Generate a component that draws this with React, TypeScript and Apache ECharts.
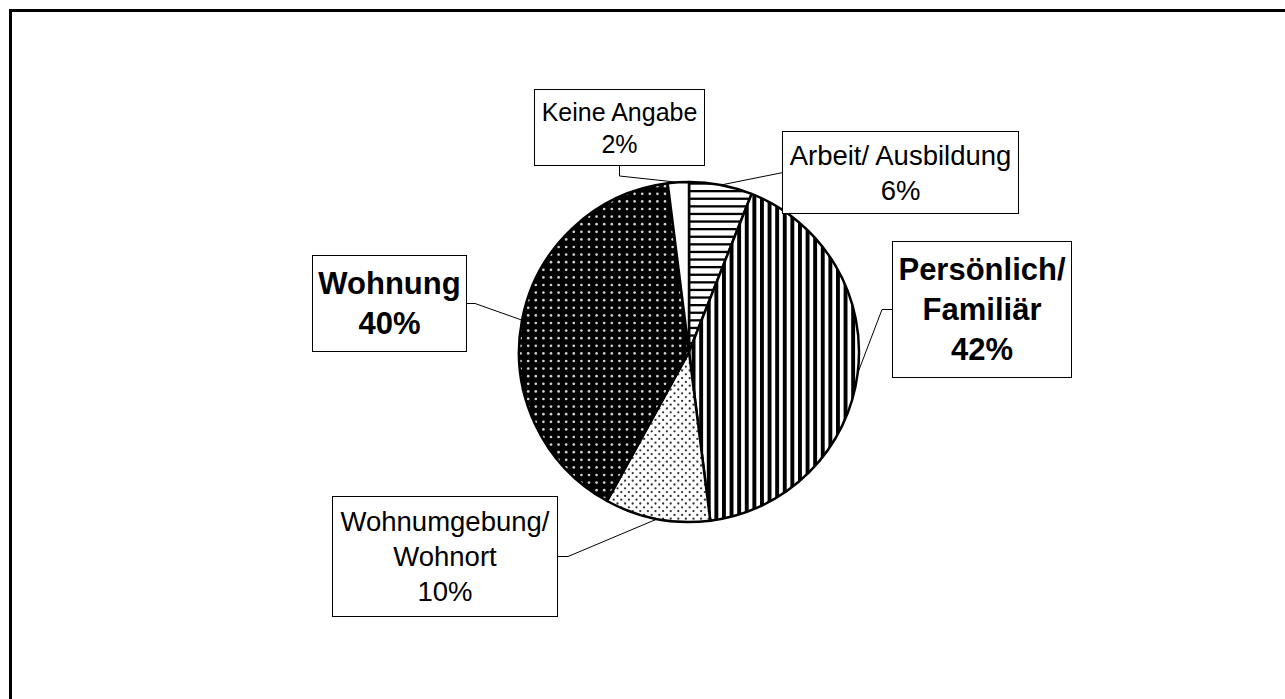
import React, { useEffect, useRef } from 'react';
import * as echarts from 'echarts';

// ---- data ----
const categories = [
  'Arbeit/ Ausbildung',
  'Persönlich/\nFamiliär',
  'Wohnumgebung/\nWohnort',
  'Wohnung',
  'Keine Angabe',
];
const values = [6, 42, 10, 40, 2];

// ---- layout (not data) ----
const CX = 689;
const CY = 352;
const R = 170;
const FONT = '"Liberation Sans", Arial, sans-serif';

type Box = { cx: number; cy: number; w: number; h: number; anchor: 'left' | 'right' | 'bottom'; fs: number; lh: number; bold: boolean; elbow: number };
const boxes: Box[] = [
  { cx: 900.5, cy: 172.5, w: 235, h: 81, anchor: 'left', fs: 27.5, lh: 35, bold: false, elbow: 0 },
  { cx: 982, cy: 309.5, w: 178, h: 135, anchor: 'left', fs: 31, lh: 40, bold: true, elbow: 11 },
  { cx: 445, cy: 556.5, w: 224, h: 119, anchor: 'right', fs: 27.5, lh: 35, bold: false, elbow: 11 },
  { cx: 389.5, cy: 303.5, w: 153, h: 95, anchor: 'right', fs: 31, lh: 40, bold: true, elbow: 9 },
  { cx: 619.5, cy: 127.5, w: 169, h: 75, anchor: 'bottom', fs: 25, lh: 32, bold: false, elbow: 11 },
];

function makeCanvas(w: number, h: number, draw: (ctx: CanvasRenderingContext2D) => void) {
  const c = document.createElement('canvas');
  c.width = w;
  c.height = h;
  const ctx = c.getContext('2d') as CanvasRenderingContext2D;
  draw(ctx);
  return c;
}

const P = 7.6;

function patterns() {
  const hStripes = makeCanvas(8, 38, (ctx) => {
    ctx.fillStyle = '#fff';
    ctx.fillRect(0, 0, 8, 38);
    ctx.fillStyle = '#000';
    for (let k = 0; k < 5; k++) ctx.fillRect(0, k * P, 8, 2.3);
  });
  const vStripes = makeCanvas(38, 8, (ctx) => {
    ctx.fillStyle = '#fff';
    ctx.fillRect(0, 0, 38, 8);
    ctx.fillStyle = '#000';
    for (let k = 0; k < 5; k++) ctx.fillRect(k * P, 0, 3.9, 8);
  });
  const darkDots = makeCanvas(38, 38, (ctx) => {
    ctx.fillStyle = '#000';
    ctx.fillRect(0, 0, 38, 38);
    ctx.fillStyle = '#d0d0d0';
    for (let i = 0; i < 5; i++)
      for (let j = 0; j < 5; j++) {
        ctx.beginPath();
        ctx.arc(i * P + 3.8, j * P + 3.8, 1.35, 0, Math.PI * 2);
        ctx.fill();
      }
  });
  const lightDots = makeCanvas(38, 38, (ctx) => {
    ctx.fillStyle = '#fff';
    ctx.fillRect(0, 0, 38, 38);
    ctx.fillStyle = '#333';
    for (let j = 0; j < 10; j++)
      for (let i = 0; i < 5; i++) {
        const x = i * P + (j % 2) * 3.8 + 1.9;
        const y = j * 3.8 + 1.9;
        ctx.beginPath();
        ctx.arc(x, y, 1.15, 0, Math.PI * 2);
        ctx.fill();
      }
  });
  return [
    { image: hStripes, repeat: 'repeat' },
    { image: vStripes, repeat: 'repeat' },
    { image: lightDots, repeat: 'repeat' },
    { image: darkDots, repeat: 'repeat' },
    '#ffffff',
  ];
}

export default function App() {
  const ref = useRef<HTMLDivElement>(null);
  useEffect(() => {
    if (!ref.current) return;
    const chart = echarts.init(ref.current, undefined, { renderer: 'svg' });
    const fills = patterns();
    const total = values.reduce((a, v) => a + v, 0);

    const data = categories.map((name, i) => {
      const b = boxes[i];
      const pv = (b.h - b.lh * (name.split('\n').length + 1)) / 2;
      return {
        name,
        value: values[i],
        itemStyle: { color: fills[i] as any },
        label: {
          fontSize: b.fs,
          lineHeight: b.lh,
          fontWeight: b.bold ? 'bold' : 'normal',
          width: b.w,
          padding: [pv, 0, pv, 0],
        },
      };
    });

    chart.setOption({
      animation: false,
      backgroundColor: '#ffffff',
      graphic: [
        {
          type: 'rect',
          shape: { x: 10.5, y: 10.5, width: 1400, height: 800 },
          style: { fill: 'none', stroke: '#000', lineWidth: 3 },
          silent: true,
        },
      ],
      series: [
        {
          type: 'pie',
          center: [CX, CY],
          radius: R,
          startAngle: 90,
          clockwise: true,
          avoidLabelOverlap: false,
          silent: true,
          itemStyle: { borderColor: '#000', borderWidth: 2.5 },
          label: {
            show: true,
            position: 'outside',
            formatter: (p: any) => p.name + '\n' + p.value + '%',
            fontFamily: FONT,
            color: '#000',
            backgroundColor: '#fff',
            borderColor: '#000',
            borderWidth: 1,
            align: 'center',
            overflow: 'none',
          },
          labelLine: {
            show: true,
            length: 10,
            length2: 10,
            lineStyle: { color: '#000', width: 1 },
          },
          labelLayout: (params: any) => {
            const i = params.dataIndex;
            const b = boxes[i];
            const before = values.slice(0, i).reduce((a, v) => a + v, 0);
            const mid = (before + values[i] / 2) / total;
            const ang = ((90 - mid * 360) * Math.PI) / 180;
            const p0 = [CX + R * Math.cos(ang), CY - R * Math.sin(ang)];
            let end: number[];
            let elbow: number[];
            if (b.anchor === 'left') {
              end = [b.cx - b.w / 2, b.cy];
              elbow = [end[0] - b.elbow, b.cy];
            } else if (b.anchor === 'right') {
              end = [b.cx + b.w / 2, b.cy];
              elbow = [end[0] + b.elbow, b.cy];
            } else {
              end = [b.cx, b.cy + b.h / 2];
              elbow = [b.cx, end[1] + b.elbow];
            }
            return {
              x: b.cx,
              y: b.cy,
              align: 'center',
              verticalAlign: 'middle',
              labelLinePoints: [p0, elbow, end],
            };
          },
          data,
        },
      ],
    });
    return () => chart.dispose();
  }, []);
  return (
    <div
      ref={ref}
      style={{ position: 'fixed', left: 0, top: 0, width: 1285, height: 699, background: '#fff' }}
    />
  );
}
